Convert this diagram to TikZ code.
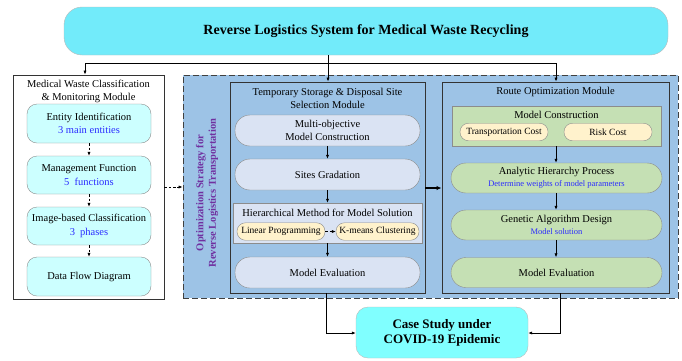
\documentclass[tikz,border=0pt]{standalone}
\usepackage{fontspec}
\setmainfont{Liberation Serif}
\usetikzlibrary{arrows.meta}
\definecolor{titlecyan}{HTML}{72EBFA}
\definecolor{lcyan}{HTML}{CCFFFF}
\definecolor{regionblue}{HTML}{9DC3E6}
\definecolor{lavender}{HTML}{DAE3F3}
\definecolor{lyellow}{HTML}{FFF2CC}
\definecolor{lgreen}{HTML}{C5E0B4}
\definecolor{casecyan}{HTML}{80FFFF}
\definecolor{purp}{HTML}{7030A0}
\definecolor{btext}{HTML}{2B2BFF}
\definecolor{edgegray}{HTML}{8C8C8C}
\tikzset{
  x=1pt, y=-1pt,
  body/.style={font=\fontsize{10.5}{12.5}\selectfont, align=center, inner sep=0pt},
  modbox/.style={draw=black!80, line width=0.9pt, inner sep=0pt},
  leftpill/.style={body, draw=edgegray, fill=lcyan, rounded corners=10pt, minimum width=124pt},
  tpill/.style={body, draw=edgegray, fill=lavender, rounded corners=15pt, minimum width=185pt, minimum height=31pt},
  gpill/.style={body, draw=edgegray, fill=lgreen, rounded corners=15pt, minimum width=211pt, minimum height=30pt},
  ypill/.style={font=\fontsize{9.5}{11}\selectfont, draw=edgegray, fill=lyellow, rounded corners=8.5pt, minimum height=17.5pt, inner sep=0pt},
  smallblue/.style={},
  arr/.style={-{Latex[length=4pt,width=3.2pt]}, line width=0.7pt, black},
  darr/.style={arr, dashed, dash pattern=on 2.5pt off 1.8pt},
}
\newcommand{\smallblue}[1]{{\fontsize{8.5}{10}\selectfont\color{btext}#1}}
\begin{document}
\begin{tikzpicture}
\useasboundingbox (0,0) rectangle (682,360);
% title
\node[draw=edgegray!60, fill=titlecyan, rounded corners=18pt, minimum width=604pt, minimum height=48pt, inner sep=0pt,
  font=\fontsize{14}{16}\selectfont\bfseries] (title) at (366,31) {Reverse Logistics System for Medical Waste Recycling};

% blue region
\node[draw=black!75, dashed, dash pattern=on 6pt off 3pt, line width=0.8pt, fill=regionblue, minimum width=495pt, minimum height=223pt, inner sep=0pt] (region) at (430.5,186.5) {};
\node[rotate=90, font=\fontsize{10.5}{12.5}\selectfont\bfseries, text=purp, align=center] (strategy) at (207,193) {Optimization Strategy for\\Reverse Logistics Transportation};

% left module
\node[modbox, fill=white, minimum width=151pt, minimum height=224pt] (left) at (88.5,187) {};
\node[body] (lefttitle) at (88.5,91.5) {Medical Waste Classification\\\& Monitoring Module};
\node[leftpill, minimum height=39pt] (entity) at (89,123.5) {Entity Identification\\[1pt]{\color{btext}3 main entities}};
\node[leftpill, minimum height=38pt] (mgmt) at (89,175) {Management Function\\[1pt]{\color{btext}5\ \ functions}};
\node[leftpill, minimum height=38pt] (image) at (89,226) {Image-based Classification\\[1pt]{\color{btext}3\ \ phases}};
\node[leftpill, minimum height=39pt] (dfd) at (89,276.5) {Data Flow Diagram};
\draw[darr] (entity) -- (mgmt);
\draw[darr] (mgmt) -- (image);
\draw[darr] (image) -- (dfd);

% temp storage module
\node[modbox, minimum width=195pt, minimum height=211pt] (temp) at (327.5,187.5) {};
\node[body] (temptitle) at (327.5,98.5) {Temporary Storage \& Disposal Site\\Selection Module};
\node[tpill] (multi) at (327.5,130.5) {Multi-objective\\Model Construction};
\node[tpill] (sites) at (327.5,174.5) {Sites Gradation};
\node[draw=edgegray, fill=lavender, minimum width=189pt, minimum height=40pt, inner sep=0pt] (hier) at (327.5,223) {};
\node[body] (hiertitle) at (327.5,213) {Hierarchical Method for Model Solution};
\node[ypill, minimum width=88pt] (lp) at (281,231.5) {Linear Programming};
\node[ypill, minimum width=83pt] (km) at (377.5,231.5) {K-means Clustering};
\node[tpill] (teval) at (327.5,272.5) {Model Evaluation};
\draw[arr] (multi) -- (sites);
\draw[arr] (sites) -- (hier);
\draw[arr] (hier) -- (teval);
\draw[darr] (lp) -- (km);

% route module
\node[modbox, minimum width=227pt, minimum height=211pt] (route) at (555.5,187.5) {};
\node[body] (routetitle) at (555.5,92) {Route Optimization Module};
\node[draw=edgegray, fill=lgreen, minimum width=209pt, minimum height=40pt, inner sep=0pt] (mc) at (556.5,126) {};
\node[body] (mctitle) at (556.5,115) {Model Construction};
\node[ypill, minimum width=88pt] (tc) at (504,132) {Transportation Cost};
\node[ypill, minimum width=88pt] (rc) at (608,132) {Risk Cost};
\node[gpill] (ahp) at (556.5,178) {Analytic Hierarchy Process\\[-1pt]\smallblue{Determine weights of model parameters}};
\node[gpill] (ga) at (556.5,225) {Genetic Algorithm Design\\[-1pt]\smallblue{Model solution}};
\node[gpill] (reval) at (556.5,272.5) {Model Evaluation};
\draw[arr] (mc.south -| 556,0) -- (ahp.north -| 556,0);
\draw[arr] (ahp.south -| 556,0) -- (ga.north -| 556,0);
\draw[arr] (ga.south -| 556,0) -- (reval.north -| 556,0);

% case study
\node[draw=edgegray!60, fill=casecyan, rounded corners=12pt, minimum width=172pt, minimum height=51pt, inner sep=0pt, align=center,
  font=\fontsize{13}{15}\selectfont\bfseries] (case) at (442,332.5) {Case Study under\\COVID-19 Epidemic};

% top connectors
\coordinate (hub) at (328,63);
\draw[line width=0.7pt] (title.south -| hub) -- (hub);
\draw[line width=0.7pt] (85,63) -- (556,63);
\draw[arr] (hub -| 85,0) -- (left.north -| 85,0);
\draw[arr] (hub) -- (temp.north -| hub);
\draw[arr] (hub -| 556,0) -- (route.north -| 556,0);

% middle connectors
\draw[darr] (left.east |- 0,187) -- (region.west |- 0,187);
\draw[-{Latex[length=5pt,width=4.5pt]}, line width=1.4pt] (temp.east |- 0,188) -- (route.west |- 0,188);

% bottom connectors
\draw[arr] (temp.south -| 326,0) |- (case.west |- 0,333);
\draw[arr] (route.south -| 560,0) |- (case.east |- 0,333);
\end{tikzpicture}
\end{document}
